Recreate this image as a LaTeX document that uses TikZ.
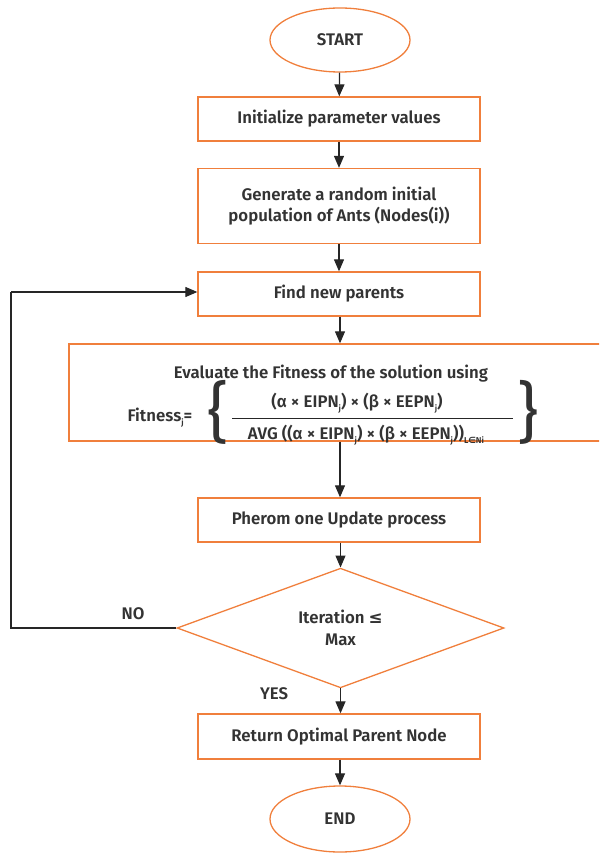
\documentclass[tikz,border=0pt]{standalone}
\usepackage{fontspec}
\setmainfont{Fira Sans}[BoldFont={* SemiBold}]
\newfontfamily\symfont{DejaVu Sans}
\usetikzlibrary{shapes.geometric,arrows.meta}
\definecolor{orng}{HTML}{F07F3C}
\definecolor{txt}{HTML}{333333}
\newcommand{\sbj}[1]{\raisebox{-0.45ex}{\fontsize{8.5}{8.5}\selectfont #1}}
\begin{document}
\begin{tikzpicture}[x=1pt,y=-1pt,
  every node/.style={text=txt,font=\fontsize{16.8}{21.5}\selectfont\bfseries},
  box/.style={draw=orng,line width=1.3pt,minimum width=282pt,align=center,inner sep=0pt},
  term/.style={draw=orng,line width=1.3pt,ellipse,minimum width=140pt,minimum height=64pt,inner sep=0pt},
  arr/.style={-{Triangle[length=12pt,width=10pt]},line width=1.2pt,black!85},
  conn/.style={line width=1.2pt,black!85}]
\useasboundingbox (0,0) rectangle (599,853);
\node[term] (start) at (340,40) {START};
\node[box,minimum height=44pt] (init) at (339,119) {Initialize parameter values};
\node[box,minimum height=75pt] (gen) at (339,206) {Generate a random initial\\population of Ants (Nodes(i))};
\node[box,minimum height=44pt] (find) at (339,294) {Find new parents};
\begin{scope}
\clip (0,0) rectangle (599,853);
\node[box,minimum width=542pt,minimum height=97pt] (eval) at (340,392.5) {};
\end{scope}
\node (evt) at (331,374) {Evaluate the Fitness of the solution using};
\node[anchor=west] (fit) at (124,418) {Fitness\sbj{j}=};
\node (num) at (357,403) {(α × EIPN\sbj{j}) × (β × EEPN\sbj{j})};
\node (den) at (366,435) {AVG ((α × EIPN\sbj{j}) × (β × EEPN\sbj{j}))\sbj{L{\symfont ∈}Ni}};
\draw[line width=1pt,black!85] (232,418) -- (513,418);
\node[font=\fontsize{66}{66}\selectfont] (lb) at (218,412) {\{};
\node[font=\fontsize{66}{66}\selectfont] (rb) at (528,412) {\}};
\node[box,minimum height=44pt] (pher) at (339,520) {Pherom one Update process};
\node[draw=orng,line width=1.3pt,diamond,minimum width=327pt,minimum height=116pt,inner sep=0pt,align=center] (dec) at (340.5,628) {Iteration {\symfont ≤}\\Max};
\node[box,minimum height=45pt] (ret) at (339,736.5) {Return Optimal Parent Node};
\node[term,minimum height=66pt] (end) at (340,819) {END};
\node (no) at (133,614) {NO};
\node (yes) at (274,694) {YES};
\coordinate (c1) at (11,628);
\coordinate (c2) at (11,292);
\draw[arr] (start) -- (init);
\draw[arr] (init) -- (gen);
\draw[arr] (gen) -- (find);
\draw[arr] (find.south -| eval.north) -- (eval.north);
\draw[arr] (eval.south) -- (pher.north -| eval.south);
\draw[arr] (pher.south -| dec.north) -- (dec.north);
\draw[arr] (dec.south) -- (ret.north -| dec.south);
\draw[arr] (ret.south -| end.north) -- (end.north);
\draw[conn] (dec.west) -- (c1) -- (c2);
\draw[arr] (c2) -- (c2 -| find.west);
\end{tikzpicture}
\end{document}
